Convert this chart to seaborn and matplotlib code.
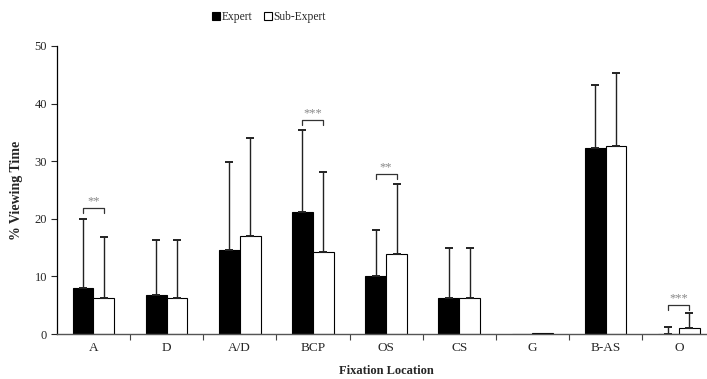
import numpy as np
import pandas as pd
import matplotlib
matplotlib.use("Agg")
import matplotlib.pyplot as plt
import seaborn as sns

# Data
locations = ['A', 'D', 'A/D', 'BCP', 'OS', 'CS', 'G', 'B-AS', 'O']
expert_mean = [8.0, 6.8, 14.5, 21.2, 10.0, 6.3, 0.0, 32.3, 0.05]
expert_sd = [11.9, 9.6, 15.3, 14.2, 8.1, 8.7, 0.0, 11.0, 1.1]
sub_mean = [6.3, 6.3, 17.0, 14.3, 13.9, 6.3, 0.2, 32.7, 1.0]
sub_sd = [10.5, 10.0, 17.0, 13.8, 12.2, 8.7, 0.0, 12.6, 2.6]

# significance brackets: (category, bracket height, label)
sig_locs = ['A', 'BCP', 'OS', 'O']
sig_heights = [21.8, 37.1, 27.7, 5.0]
sig_labels = ['**', '***', '**', '***']

groups = ['Expert', 'Sub-Expert']

df = pd.DataFrame({
    'Location': locations * 2,
    'Group': [groups[0]] * len(locations) + [groups[1]] * len(locations),
    'Value': expert_mean + sub_mean,
})

sns.set_style('white')
plt.rcParams['font.family'] = ['Liberation Serif', 'DejaVu Serif']

fig = plt.figure(figsize=(7.07, 3.79), dpi=100)
ax = fig.add_axes([0.0803, 0.1187, 0.9316, 0.760])

sns.barplot(data=df, x='Location', y='Value', hue='Group', order=locations,
            hue_order=groups, palette={'Expert': 'black', 'Sub-Expert': 'white'},
            edgecolor='black', linewidth=0.8, width=0.57, errorbar=None,
            saturation=1, ax=ax)

# bar centres from the patches seaborn drew (Expert first, then Sub-Expert)
bars = [p for p in ax.patches if p.get_width() > 0][:2 * len(locations)]
centres = np.array([b.get_x() + b.get_width() / 2 for b in bars])
exp_x = centres[:len(locations)]
sub_x = centres[len(locations):]

# upward-only error bars
for xs, m, sd in [(exp_x, expert_mean, expert_sd), (sub_x, sub_mean, sub_sd)]:
    m = np.array(m)
    sd = np.array(sd)
    keep = sd > 0
    ax.errorbar(xs[keep], m[keep], yerr=[np.zeros(keep.sum()), sd[keep]],
                fmt='none', ecolor='#222222', elinewidth=1, capsize=2.6,
                capthick=1.4, zorder=1)

# significance brackets
for loc, h, lab in zip(sig_locs, sig_heights, sig_labels):
    i = locations.index(loc)
    x0, x1 = exp_x[i], sub_x[i]
    ax.plot([x0, x0, x1, x1], [h - 0.8, h, h, h - 0.8], color='#333333', lw=0.9)
    ax.text((x0 + x1) / 2, h + 0.2, lab, ha='center', va='bottom',
            color='#888888', fontsize=9)

ax.set_xlim(-0.5, len(locations) - 0.5)
ax.set_ylim(0, 50)
ax.set_yticks(range(0, 51, 10))
ax.set_xticks(np.arange(0.5, len(locations) - 1, 1), minor=True)

ax.tick_params(axis='x', which='major', length=0, pad=6, labelsize=9.5)
ax.tick_params(axis='x', which='minor', length=4, width=0.8, color='#444444',
               direction='out', bottom=True)
ax.tick_params(axis='y', length=4, width=0.8, direction='out', left=True,
               labelsize=9, pad=3)

sns.despine(ax=ax)
ax.spines['left'].set_color('black')
ax.spines['left'].set_linewidth(0.9)
ax.spines['bottom'].set_color('#555555')
ax.spines['bottom'].set_linewidth(1.0)

ax.set_xlabel('Fixation Location', fontweight='bold', fontsize=9, labelpad=8)
ax.set_ylabel('% Viewing Time', fontweight='bold', fontsize=10, labelpad=8)

handles, labels = ax.get_legend_handles_labels()
ax.legend(handles, labels, loc='center', bbox_to_anchor=(269 / 707, 1 - 17 / 379),
          bbox_transform=fig.transFigure, ncol=2, frameon=False, fontsize=8.3,
          handlelength=0.7, handleheight=0.8, handletextpad=0.15,
          columnspacing=1.0, borderpad=0)

fig.savefig('out.png', dpi=100)
